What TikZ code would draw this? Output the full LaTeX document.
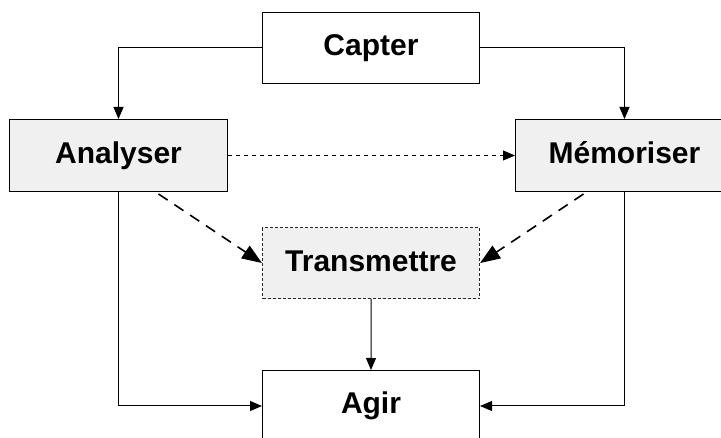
\documentclass[tikz,border=0pt]{standalone}
\usepackage{fontspec}
\setmainfont{Liberation Sans}
\usetikzlibrary{arrows.meta,calc}
\definecolor{boxgray}{HTML}{F0F0F0}
\begin{document}
\begin{tikzpicture}[x=1pt,y=-1pt,
  box/.style={draw=black,line width=1pt,minimum width=217pt,minimum height=71pt,anchor=north west,inner sep=0pt,
    text height=22pt,text depth=6pt,
    font=\fontsize{30}{36}\selectfont\bfseries},
  graybox/.style={box,fill=boxgray},
  conn/.style={line width=1pt,-{Triangle[length=12pt,width=10pt]}},
  thindash/.style={line width=0.8pt,dash pattern=on 4pt off 4pt,-{Triangle[length=12pt,width=10pt]}},
  bigdash/.style={line width=1.6pt,dash pattern=on 11pt off 8pt,-{Triangle[length=20pt,width=15pt]}}]
\useasboundingbox (0,0) rectangle (721,438);
\node[box] (capter) at (262,12) {Capter};
\node[graybox,minimum width=218pt,minimum height=72pt] (analyser) at (9,119) {Analyser};
\node[graybox,minimum width=218pt,minimum height=72pt] (memo) at (515,119) {Mémoriser};
\node[graybox,line width=1.1pt,dash pattern=on 3pt off 2pt,draw=black!85] (trans) at (262,227) {Transmettre};
\node[box] (agir) at (262,370) {Agir};
\draw[conn] (capter.west) -| (analyser.north);
\draw[conn] (capter.east) -| (memo.north);
\draw[thindash] (analyser.east) -- (memo.west);
\draw[bigdash] ($(analyser.south)+(40,2)$) -- (trans.west);
\draw[bigdash] ($(memo.south)+(-41,2)$) -- (trans.east);
\draw[conn] (trans.south) -- (agir.north);
\draw[conn] (analyser.south) |- (agir.west);
\draw[conn] (memo.south) |- (agir.east);
\end{tikzpicture}
\end{document}
